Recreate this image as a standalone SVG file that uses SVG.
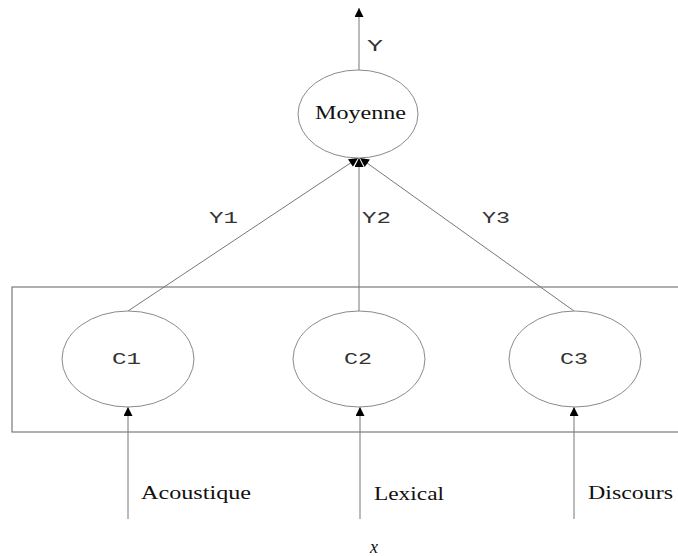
<svg xmlns="http://www.w3.org/2000/svg" width="678" height="556" viewBox="0 0 678 556">
<style>
.node{fill:#fff;stroke:#8a8a8a;stroke-width:1}
.box{fill:none;stroke:#7a7a7a;stroke-width:1.2}
.edge{stroke:#777;stroke-width:1;fill:none}
.mono{font-family:"Liberation Mono","DejaVu Sans Mono",monospace;font-size:17px;fill:#333}
.serif{font-family:"Liberation Serif","DejaVu Serif",serif;font-size:18px;fill:#111}
</style>
<defs>
<marker id="ah" viewBox="0 0 10 10" refX="10" refY="5" markerWidth="11" markerHeight="9" markerUnits="userSpaceOnUse" orient="auto">
<path d="M0,0 L10,5 L0,10 z" fill="#000"/>
</marker>
</defs>
<rect id="ensemble" class="box" x="12" y="287" width="690" height="145"/>
<g id="connectors">
<line class="edge" x1="359" y1="70" x2="359" y2="8" marker-end="url(#ah)"/>
<line class="edge" x1="128" y1="311" x2="358" y2="158" marker-end="url(#ah)"/>
<line class="edge" x1="359" y1="311" x2="359" y2="158" marker-end="url(#ah)"/>
<line class="edge" x1="574" y1="311" x2="360" y2="158" marker-end="url(#ah)"/>
<line class="edge" x1="128" y1="519" x2="128" y2="407" marker-end="url(#ah)"/>
<line class="edge" x1="360" y1="519" x2="360" y2="407" marker-end="url(#ah)"/>
<line class="edge" x1="574" y1="519" x2="574" y2="407" marker-end="url(#ah)"/>
<text class="mono" x="367" y="51" textLength="16" lengthAdjust="spacingAndGlyphs">Y</text>
<text class="mono" x="209" y="223" textLength="29" lengthAdjust="spacingAndGlyphs">Y1</text>
<text class="mono" x="362" y="223" textLength="29" lengthAdjust="spacingAndGlyphs">Y2</text>
<text class="mono" x="482" y="223" textLength="28" lengthAdjust="spacingAndGlyphs">Y3</text>
</g>
<g id="moyenne">
<ellipse class="node" cx="358" cy="114" rx="60" ry="44"/>
<text class="serif" x="315" y="119" textLength="91" lengthAdjust="spacingAndGlyphs">Moyenne</text>
</g>
<g id="c1">
<ellipse class="node" cx="128" cy="359" rx="66" ry="48"/>
<text class="mono" x="112" y="364" textLength="29" lengthAdjust="spacingAndGlyphs">C1</text>
</g>
<g id="c2">
<ellipse class="node" cx="359" cy="359" rx="66" ry="48"/>
<text class="mono" x="344" y="364" textLength="28" lengthAdjust="spacingAndGlyphs">C2</text>
</g>
<g id="c3">
<ellipse class="node" cx="575" cy="359" rx="66" ry="48"/>
<text class="mono" x="560" y="364" textLength="28" lengthAdjust="spacingAndGlyphs">C3</text>
</g>
<g id="inputs">
<text class="serif" x="141" y="499" textLength="110" lengthAdjust="spacingAndGlyphs">Acoustique</text>
<text class="serif" x="374" y="500" textLength="70" lengthAdjust="spacingAndGlyphs">Lexical</text>
<text class="serif" x="588" y="499" textLength="85" lengthAdjust="spacingAndGlyphs">Discours</text>
<text class="serif" x="370" y="553" font-style="italic" font-size="19">x</text>
</g>
</svg>
